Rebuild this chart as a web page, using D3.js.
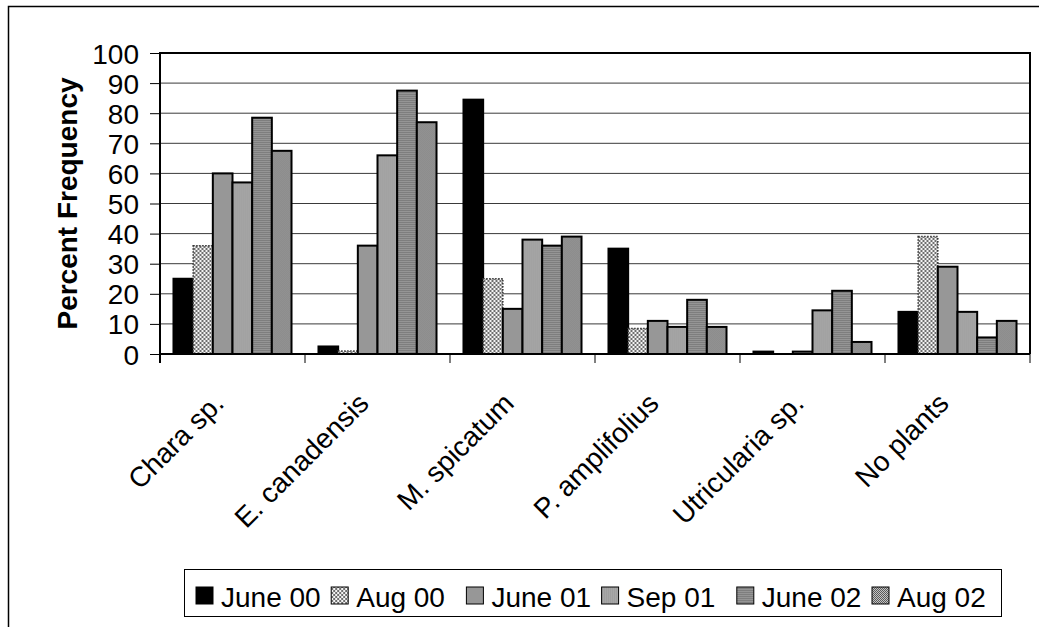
<!DOCTYPE html>
<html><head><meta charset="utf-8">
<script src="https://cdn.jsdelivr.net/npm/d3@7"></script>
<style>
html,body{margin:0;padding:0;background:#fff;}
svg{display:block;font-family:"Liberation Sans",Arial,sans-serif;}
</style></head>
<body>
<svg id="chart" width="1039" height="627"></svg>
<script>
const categories = ["Chara sp.","E. canadensis","M. spicatum","P. amplifolius","Utricularia sp.","No plants"];
const seriesNames = ["June 00","Aug 00","June 01","Sep 01","June 02","Aug 02"];
const june00 = [25, 2.5, 84.5, 35, 0.8, 14];
const aug00  = [36, 1, 25, 8.5, 0, 39];
const june01 = [60, 36, 15, 11, 0.8, 29];
const sep01  = [57, 66, 38, 9, 14.5, 14];
const june02 = [78.5, 87.5, 36, 18, 21, 5.5];
const aug02  = [67.5, 77, 39, 9, 4, 11];
const yTicks = [0,10,20,30,40,50,60,70,80,90,100];
const yTitle = "Percent Frequency";

const seriesValues = [june00, aug00, june01, sep01, june02, aug02];
const svg = d3.select("#chart");
const defs = svg.append("defs");

function pat(id, w, h, draw){
  const p = defs.append("pattern").attr("id", id).attr("patternUnits","userSpaceOnUse")
    .attr("width", w).attr("height", h);
  draw(p);
}
pat("pAug00", 4, 4, p => {
  p.append("rect").attr("width",4).attr("height",4).attr("fill","#f4f4f4");
  p.append("rect").attr("width",2).attr("height",2).attr("fill","#6e6e6e");
  p.append("rect").attr("x",2).attr("y",2).attr("width",2).attr("height",2).attr("fill","#6e6e6e");
});
pat("pSep01", 2, 2, p => {
  p.append("rect").attr("width",2).attr("height",2).attr("fill","#b8b8b8");
  p.append("rect").attr("width",1).attr("height",2).attr("fill","#8e8e8e");
});
pat("pJune02", 2, 2, p => {
  p.append("rect").attr("width",2).attr("height",2).attr("fill","#959595");
  p.append("rect").attr("width",2).attr("height",1).attr("fill","#7e7e7e");
});
pat("pAug02", 2, 2, p => {
  p.append("rect").attr("width",2).attr("height",2).attr("fill","#c4c4c4");
  p.append("rect").attr("width",1).attr("height",1).attr("fill","#5a5a5a");
  p.append("rect").attr("x",1).attr("y",1).attr("width",1).attr("height",1).attr("fill","#5a5a5a");
});

const styles = {
  "June 00": {fill:"#000", stroke:"#000", dash:null},
  "Aug 00":  {fill:"url(#pAug00)", stroke:"#333", dash:"1.5,1.5"},
  "June 01": {fill:"#979797", stroke:"#000", dash:null},
  "Sep 01":  {fill:"url(#pSep01)", stroke:"#000", dash:null},
  "June 02": {fill:"url(#pJune02)", stroke:"#000", dash:null},
  "Aug 02":  {fill:"url(#pAug02)", stroke:"#000", dash:null}
};

// outer frame
svg.append("rect").attr("x",8.5).attr("y",6.5).attr("width",1200).attr("height",800)
  .attr("fill","none").attr("stroke","#000").attr("stroke-width",1.5);

const L = 160, R = 1030, T = 53, B = 354;
const x0 = d3.scaleBand().domain(categories).range([L, R]).paddingInner(0.186).paddingOuter(0.093);
const x1 = d3.scaleBand().domain(seriesNames).range([0, x0.bandwidth()]);
const y = d3.scaleLinear().domain([0,100]).range([B, T]);

// gridlines
svg.append("g").selectAll("line").data(yTicks.filter(d => d > 0 && d < 100)).join("line")
  .attr("x1", L).attr("x2", R).attr("y1", d => y(d)).attr("y2", d => y(d))
  .attr("stroke","#3a3a3a").attr("stroke-width",1);

// bars
const groups = svg.append("g").selectAll("g").data(categories).join("g")
  .attr("transform", c => `translate(${x0(c)},0)`);
groups.each(function(c, ci){
  const g = d3.select(this);
  seriesNames.forEach((s, si) => {
    const v = seriesValues[si][ci];
    if (v <= 0) return;
    const st = styles[s];
    g.append("rect")
      .attr("x", x1(s)).attr("y", y(v))
      .attr("width", x1.bandwidth()).attr("height", y(0) - y(v))
      .attr("fill", st.fill).attr("stroke", st.stroke).attr("stroke-width", s === "Aug 00" ? 1.5 : 2)
      .attr("stroke-dasharray", st.dash);
  });
});

// plot border top/right
svg.append("line").attr("x1", L).attr("x2", R).attr("y1", y(100)).attr("y2", y(100)).attr("stroke","#000").attr("stroke-width",2);
svg.append("line").attr("x1", R).attr("x2", R).attr("y1", T-1).attr("y2", B).attr("stroke","#000").attr("stroke-width",2);

// y axis
const yAxis = d3.axisLeft(y).tickValues(yTicks).tickSize(10).tickPadding(11).tickFormat(d3.format("d"));
const ya = svg.append("g").attr("transform", `translate(${L},0)`).call(yAxis);
ya.select(".domain").attr("stroke","#000").attr("stroke-width",2).attr("d", `M-0,${T-1}V${B+9}`);
ya.selectAll(".tick line").attr("stroke","#000").attr("stroke-width",1);
ya.selectAll(".tick text").attr("font-size", 28).attr("fill","#000")
  .attr("font-family",'"Liberation Sans",Arial,sans-serif').attr("dy","0.36em");

// x axis
const xAxis = d3.axisBottom(x0).tickSize(0).tickFormat("");
const xa = svg.append("g").attr("transform", `translate(0,${B})`).call(xAxis);
xa.select(".domain").attr("stroke","#000").attr("stroke-width",2).attr("d", `M${L},0H${R}`);
const catTicks = d3.range(categories.length + 1).map(i => i === categories.length ? R : x0(categories[i]) - x0.step()*x0.paddingOuter());
svg.append("g").selectAll("line").data(catTicks).join("line")
  .attr("x1", d => d).attr("x2", d => d).attr("y1", B).attr("y2", B + 9)
  .attr("stroke","#000").attr("stroke-width",1);
svg.append("g").selectAll("text").data(categories).join("text")
  .attr("transform", c => `translate(${x0(c) + x0.bandwidth()/2 - 7},405) rotate(-45)`)
  .attr("text-anchor","end").attr("font-size",28).attr("fill","#000").text(c => c);

// y title
svg.append("text").attr("transform", `translate(77,${(T+B)/2}) rotate(-90)`)
  .attr("text-anchor","middle").attr("font-size",28).attr("font-weight","bold").text(yTitle);

// legend
const lg = svg.append("g");
lg.append("rect").attr("x",184.5).attr("y",569.5).attr("width",817).attr("height",47)
  .attr("fill","#fff").attr("stroke","#000").attr("stroke-width",1);
const lx = d3.scalePoint().domain(seriesNames).range([196, 872]);
const items = lg.selectAll("g").data(seriesNames).join("g")
  .attr("transform", s => `translate(${lx(s)},0)`);
items.append("rect").attr("x",0).attr("y",587).attr("width",17).attr("height",17)
  .attr("fill", s => styles[s].fill).attr("stroke","#000").attr("stroke-width",1);
items.append("text").attr("x",25).attr("y",607).attr("font-size",28).attr("fill","#000").text(s => s);
</script>
</body></html>
